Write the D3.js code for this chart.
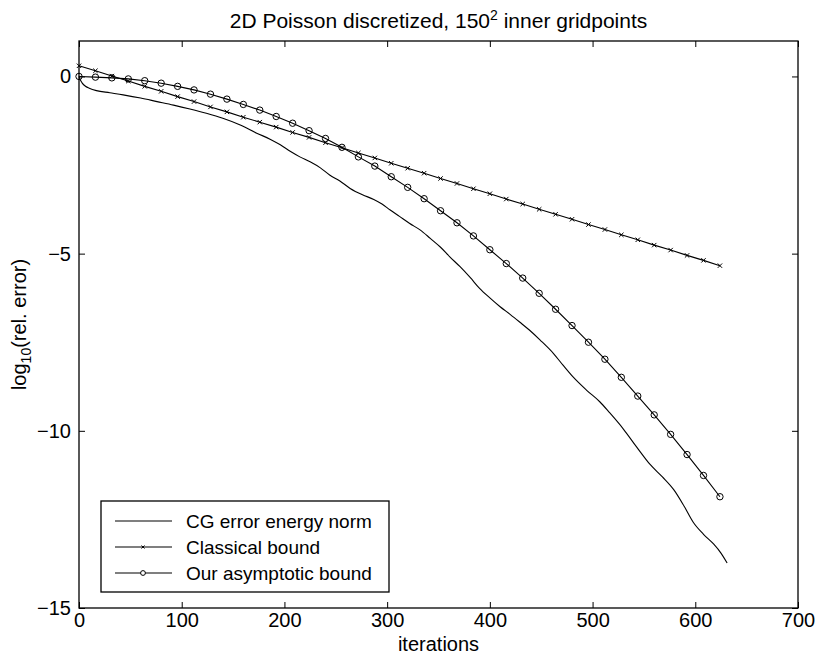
<!DOCTYPE html>
<html>
<head>
<meta charset="utf-8">
<style>
  body { margin: 0; background: #fff; }
  text { font-family: "Liberation Sans", Arial, Helvetica, sans-serif; fill: #000; }
</style>
</head>
<body>
<div id="chart"></div>
<script src="https://d3js.org/d3.v7.min.js"></script>
<script>
// values
var cgIter = [0, 1, 3, 6, 10, 17, 30, 43, 60, 76, 92, 108, 124, 140, 157, 173, 186, 196, 206, 215, 225,
  235, 244, 254, 264, 276, 287, 295, 303, 312, 322, 332, 342, 352, 361, 371, 381, 390, 400, 410, 420,
  429, 439, 449, 462, 471, 481, 494, 507, 516, 530, 543, 556, 568, 579, 589, 598, 608, 618, 625, 631];
var cgErr = [0, -0.08, -0.18, -0.27, -0.33, -0.40, -0.46, -0.52, -0.61, -0.71, -0.81, -0.92, -1.04, -1.18, -1.37, -1.60, -1.77, -1.93, -2.12, -2.27, -2.41,
  -2.58, -2.78, -2.95, -3.16, -3.34, -3.47, -3.60, -3.77, -3.95, -4.15, -4.33, -4.57, -4.82, -5.09, -5.37, -5.68, -5.98, -6.25, -6.50, -6.72,
  -6.93, -7.17, -7.44, -7.82, -8.14, -8.48, -8.85, -9.18, -9.47, -9.95, -10.46, -10.95, -11.30, -11.66, -12.12, -12.58, -12.92, -13.20, -13.45, -13.73];

// marker iterations shared by both bounds
var boundIter = [0, 16, 32, 48, 64, 80, 96, 112, 128, 144, 160, 176, 192, 208, 224, 240, 256, 272, 288, 304,
  320, 336, 352, 368, 384, 400, 416, 432, 448, 464, 480, 496, 512, 528, 544, 560, 576, 592, 608, 624];
var classical = [0.30, 0.16, 0.01, -0.13, -0.28, -0.42, -0.57, -0.71, -0.86, -1.00, -1.15, -1.29, -1.43, -1.58, -1.72, -1.87, -2.01, -2.16, -2.30, -2.45,
  -2.59, -2.73, -2.88, -3.02, -3.17, -3.31, -3.46, -3.60, -3.75, -3.89, -4.03, -4.18, -4.32, -4.47, -4.61, -4.76, -4.90, -5.05, -5.19, -5.34];
var asymptotic = [0, -0.02, -0.04, -0.07, -0.12, -0.19, -0.28, -0.38, -0.50, -0.64, -0.79, -0.95, -1.13, -1.32, -1.53, -1.75, -2.00, -2.27, -2.53, -2.83,
  -3.13, -3.45, -3.79, -4.13, -4.50, -4.89, -5.28, -5.69, -6.12, -6.57, -7.03, -7.50, -7.98, -8.49, -9.02, -9.55, -10.10, -10.67, -11.26, -11.86];

var xTicks = [0, 100, 200, 300, 400, 500, 600, 700];
var yTicks = [-15, -10, -5, 0];
var legendLabels = ["CG error energy norm", "Classical bound", "Our asymptotic bound"];

// set the dimensions and margins of the graph
var W = 816, H = 659;
var margin = {top: 41, right: 18, bottom: 51, left: 79},
    width = W - margin.left - margin.right,
    height = H - margin.top - margin.bottom;

var svg = d3.select("#chart")
  .append("svg")
    .attr("width", W)
    .attr("height", H)
  .append("g")
    .attr("transform", "translate(" + margin.left + "," + margin.top + ")");

var x = d3.scaleLinear().domain([0, 700]).range([0, width]);
var y = d3.scaleLinear().domain([-15, 1]).range([height, 0]);

var tickLen = 6;

// axes, matlab style: ticks inside on all four sides
svg.append("g")
  .attr("transform", "translate(0," + height + ")")
  .call(d3.axisBottom(x).tickValues(xTicks).tickSizeInner(-tickLen).tickSizeOuter(0).tickPadding(5))
  .call(function(g) { g.selectAll("text").attr("font-size", 20); });
svg.append("g")
  .call(d3.axisTop(x).tickValues(xTicks).tickSizeInner(-tickLen).tickSizeOuter(0).tickFormat(""));
svg.append("g")
  .call(d3.axisLeft(y).tickValues(yTicks).tickSizeInner(-tickLen).tickSizeOuter(0).tickPadding(8))
  .call(function(g) { g.selectAll("text").attr("font-size", 20); });
svg.append("g")
  .attr("transform", "translate(" + width + ",0)")
  .call(d3.axisRight(y).tickValues(yTicks).tickSizeInner(-tickLen).tickSizeOuter(0).tickFormat(""));

svg.selectAll(".domain").remove();
svg.selectAll(".tick line").attr("stroke", "#000").attr("stroke-width", 1);
svg.selectAll(".tick text").attr("font-family", "Liberation Sans, Arial, sans-serif");

// box
svg.append("rect")
  .attr("width", width).attr("height", height)
  .attr("fill", "none").attr("stroke", "#000").attr("stroke-width", 1.3);

var line = d3.line()
  .x(function(d) { return x(d[0]); })
  .y(function(d) { return y(d[1]); });

// CG error curve
svg.append("path")
  .datum(cgIter.map(function(v, i) { return [v, cgErr[i]]; }))
  .attr("fill", "none").attr("stroke", "#000").attr("stroke-width", 1.1)
  .attr("d", line.curve(d3.curveMonotoneX));

line.curve(d3.curveLinear);

var classicalData = boundIter.map(function(v, i) { return [v, classical[i]]; });
var asymData = boundIter.map(function(v, i) { return [v, asymptotic[i]]; });

svg.append("path").datum(classicalData)
  .attr("fill", "none").attr("stroke", "#000").attr("stroke-width", 1.1).attr("d", line);
svg.append("path").datum(asymData)
  .attr("fill", "none").attr("stroke", "#000").attr("stroke-width", 1.1).attr("d", line);

// x markers
function crossPath(s) {
  return "M" + (-s) + "," + (-s) + "L" + s + "," + s + "M" + (-s) + "," + s + "L" + s + "," + (-s);
}
svg.selectAll(".xmark")
  .data(classicalData)
  .enter().append("path")
    .attr("class", "xmark")
    .attr("transform", function(d) { return "translate(" + x(d[0]) + "," + y(d[1]) + ")"; })
    .attr("d", crossPath(2.2))
    .attr("stroke", "#000").attr("stroke-width", 1);

// circle markers
svg.selectAll(".omark")
  .data(asymData)
  .enter().append("circle")
    .attr("class", "omark")
    .attr("cx", function(d) { return x(d[0]); })
    .attr("cy", function(d) { return y(d[1]); })
    .attr("r", 3.2)
    .attr("fill", "none").attr("stroke", "#000").attr("stroke-width", 1);

// title and labels
var root = d3.select("svg");
var title = root.append("text")
  .attr("x", margin.left + width / 2).attr("y", 28)
  .attr("text-anchor", "middle").attr("font-size", 21);
title.append("tspan").text("2D Poisson discretized, 150");
title.append("tspan").attr("font-size", 14).attr("dy", -8).text("2");
title.append("tspan").attr("dy", 8).text(" inner gridpoints");

root.append("text")
  .attr("x", margin.left + width / 2).attr("y", 651)
  .attr("text-anchor", "middle").attr("font-size", 20)
  .text("iterations");

var yl = root.append("text")
  .attr("transform", "translate(26," + (margin.top + height / 2) + ") rotate(-90)")
  .attr("text-anchor", "middle").attr("font-size", 20);
yl.append("tspan").text("log");
yl.append("tspan").attr("font-size", 14).attr("dy", 5).text("10");
yl.append("tspan").attr("dy", -5).text("(rel. error)");

// legend
var lg = root.append("g").attr("transform", "translate(101,501)");
lg.append("rect")
  .attr("width", 288).attr("height", 91)
  .attr("fill", "#fff").attr("stroke", "#000").attr("stroke-width", 1.3);
var rowY = [20, 46, 72];
legendLabels.forEach(function(lab, i) {
  lg.append("line")
    .attr("x1", 14).attr("x2", 71).attr("y1", rowY[i]).attr("y2", rowY[i])
    .attr("stroke", "#000").attr("stroke-width", 1.1);
  if (i === 1) {
    lg.append("path").attr("transform", "translate(42," + rowY[i] + ")")
      .attr("d", crossPath(1.5)).attr("stroke", "#000").attr("stroke-width", 1);
  }
  if (i === 2) {
    lg.append("circle").attr("cx", 42).attr("cy", rowY[i]).attr("r", 2.4)
      .attr("fill", "#fff").attr("stroke", "#000").attr("stroke-width", 1);
  }
  lg.append("text")
    .attr("x", 85).attr("y", rowY[i] + 7)
    .attr("font-size", 19)
    .text(lab);
});
</script>
</body>
</html>
